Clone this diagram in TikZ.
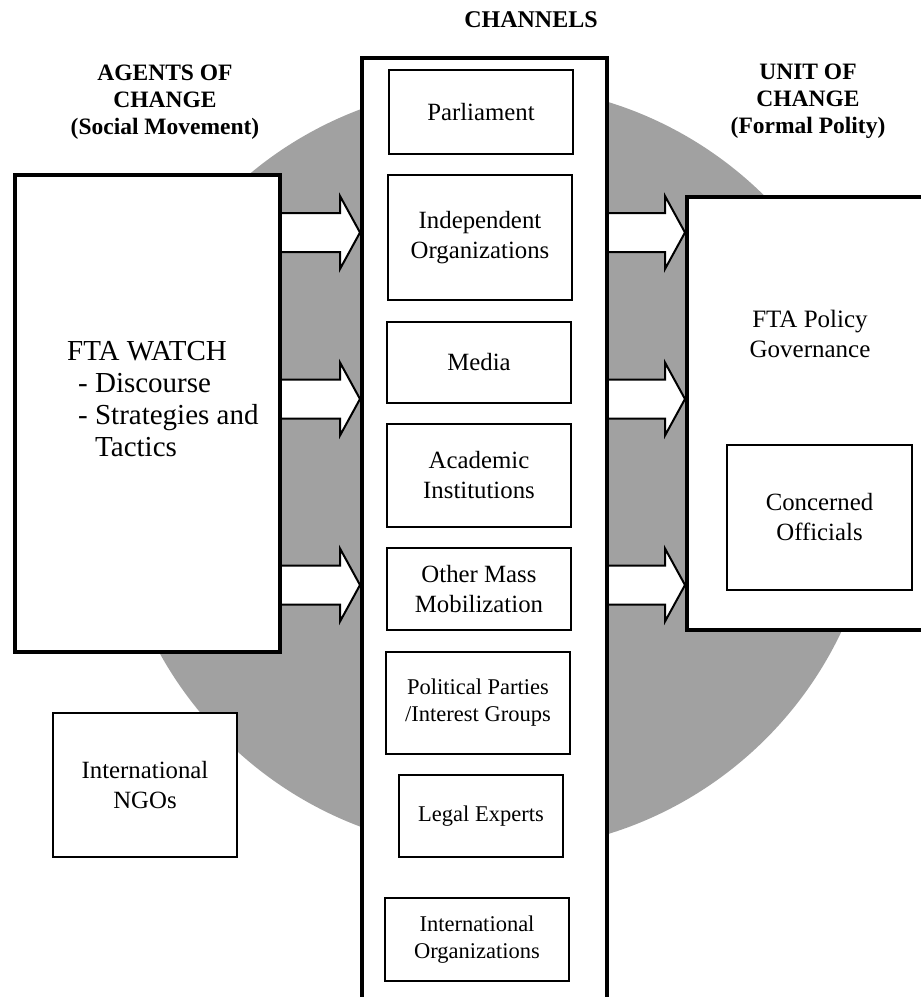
\documentclass[tikz,border=0pt]{standalone}
\usepackage{fontspec}
\setmainfont{Liberation Serif}
\usetikzlibrary{calc,backgrounds}

\begin{document}
\begin{tikzpicture}[x=1pt, y=-1pt,
  frame/.style={draw=black, line width=4pt, fill=white, inner sep=0pt},
  chbox/.style={draw=black, line width=2.4pt, fill=white, align=center, inner sep=0pt,
    font=\fontsize{24.8}{30}\selectfont},
  smalltxt/.style={font=\fontsize{22.5}{27}\selectfont},
  heading/.style={align=center, inner sep=0pt, font=\bfseries\fontsize{23.5}{27}\selectfont},
  blockarrow/.style={draw=black, line width=2pt, fill=white, line join=miter}]
\useasboundingbox (0,0) rectangle (921,997);
\clip (0,0) rectangle (921,997);

\begin{pgfonlayer}{background}
\fill[black!37] (495,468) circle[radius=383pt];
\end{pgfonlayer}

% headings
\node[heading] (agents) at (165,102) {AGENTS OF\\CHANGE\\(Social Movement)};
\node[heading, font=\bfseries\fontsize{24}{28}\selectfont] (channels) at (531,20) {CHANNELS};
\node[heading] (unit) at (808,101) {UNIT OF\\CHANGE\\(Formal Polity)};

% the three big frames
\node[frame, minimum width=265pt, minimum height=477pt] (watch) at (147.5,413.5) {};
\node[frame, minimum width=245pt, minimum height=960pt] (chan) at (484.5,538) {};
\node[frame, minimum width=256pt, minimum height=433pt] (policy) at (815,413.5) {};

\node[anchor=north west, align=left, inner sep=0pt, font=\fontsize{29}{32}\selectfont]
  (watchtxt) at (67,341) {FTA WATCH\\ \hspace*{11pt}- Discourse\\ \hspace*{11pt}- Strategies and\\ \hspace*{28pt}Tactics};
\node[align=center, inner sep=0pt, font=\fontsize{25}{29.5}\selectfont]
  (policytxt) at (810,334) {FTA Policy\\Governance};
\node[chbox, minimum width=185pt, minimum height=145pt] (officials) at (819.5,517.5) {Concerned\\Officials};
\node[chbox, minimum width=184pt, minimum height=144pt] (ngos) at (145,785) {International\\NGOs};

% channels
\node[chbox, minimum width=184pt, minimum height=84pt] (parl) at (481,112) {Parliament};
\node[chbox, minimum width=184pt, minimum height=125pt] (indep) at (480,237.5) {Independent\\Organizations};
\node[chbox, minimum width=184pt, minimum height=81pt] (media) at (479,362.5) {Media};
\node[chbox, minimum width=184pt, minimum height=103pt] (acad) at (479,475.5) {Academic\\Institutions};
\node[chbox, minimum width=184pt, minimum height=82pt] (mass) at (479,589) {Other Mass\\Mobilization};
\node[chbox, smalltxt, minimum width=184pt, minimum height=102pt] (parties) at (478,703) {Political Parties\\/Interest Groups};
\node[chbox, smalltxt, minimum width=164pt, minimum height=82pt] (legal) at (481,816) {Legal Experts};
\node[chbox, smalltxt, minimum width=184pt, minimum height=83pt] (intorg) at (477,939.5) {International\\Organizations};

\begin{pgfonlayer}{background}
\foreach \y in {232.5,399,585} {
 \path (watch.east |- 0,\y) coordinate (s) (chan.west |- 0,\y) coordinate (t);
 \draw[blockarrow] ($(s)+(0,-19.5)$) -- ($(t)+(-20,-19.5)$) -- ($(t)+(-20,-36.5)$) -- (t)
   -- ($(t)+(-20,36.5)$) -- ($(t)+(-20,19.5)$) -- ($(s)+(0,19.5)$);
 \path (chan.east |- 0,\y) coordinate (s) (policy.west |- 0,\y) coordinate (t);
 \draw[blockarrow] ($(s)+(0,-19.5)$) -- ($(t)+(-20,-19.5)$) -- ($(t)+(-20,-36.5)$) -- (t)
   -- ($(t)+(-20,36.5)$) -- ($(t)+(-20,19.5)$) -- ($(s)+(0,19.5)$);
}
\end{pgfonlayer}
\end{tikzpicture}
\end{document}
